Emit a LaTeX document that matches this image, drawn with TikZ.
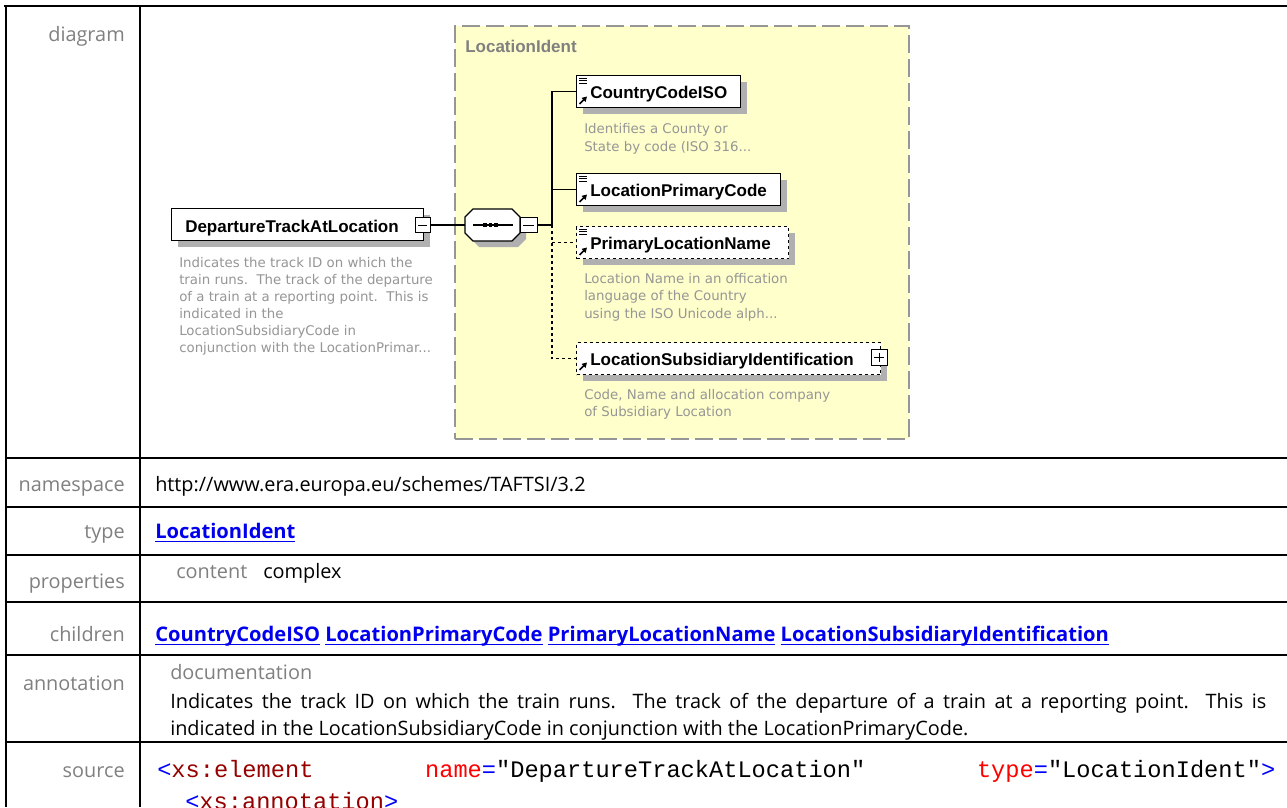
\documentclass[tikz,border=0pt]{standalone}
\usepackage{fontspec}
\setmainfont{Open Sans}
\newfontfamily\tblf{Open Sans}
\newfontfamily\dgf{DejaVu Sans}
\newfontfamily\lblf{Liberation Sans}
\newfontfamily\monof{Liberation Mono}
\usetikzlibrary{shadows,arrows.meta}

\newsavebox\ulbox
\newcommand\lnkul[1]{\sbox\ulbox{#1}\rlap{\vrule height -2pt depth 3pt width \wd\ulbox}\usebox\ulbox}

\definecolor{lblgray}{RGB}{128,128,128}
\definecolor{descgray}{RGB}{150,150,150}
\definecolor{grpyellow}{RGB}{255,255,204}
\definecolor{grpborder}{RGB}{150,150,150}
\definecolor{shd}{RGB}{176,176,176}
\definecolor{linkblue}{RGB}{0,0,238}
\definecolor{srcblue}{RGB}{0,0,255}
\definecolor{srcmaroon}{RGB}{150,0,0}
\definecolor{srcred}{RGB}{255,0,0}

\begin{document}
\begin{tikzpicture}[x=0.75pt,y=-0.75pt,
 rowlbl/.style={font=\tblf\fontsize{14.9}{18}\selectfont,text=lblgray,inner sep=0,anchor=base east},
 val/.style={font=\tblf\fontsize{14.9}{18}\selectfont,inner sep=0,anchor=base west},
 link/.style={font=\tblf\bfseries\fontsize{15.1}{18}\selectfont,text=linkblue,inner sep=0,anchor=base west},
 src/.style={font=\monof\fontsize{17.75}{22}\selectfont,inner sep=0,anchor=base west},
 rule/.style={line width=1.5pt},
 elbox/.style={draw,fill=white,line width=0.9pt,inner sep=0,minimum height=24pt,anchor=north west,
   general shadow={fill=shd,shadow xshift=4.5pt,shadow yshift=-4.5pt,shadow scale=1}},
 optbox/.style={elbox,dash pattern=on 2.25pt off 2.25pt},
 elname/.style={font=\lblf\bfseries\fontsize{12.75}{15}\selectfont,inner sep=0,anchor=base west},
 desc/.style={font=\dgf\fontsize{10}{12}\selectfont,text=descgray,inner sep=0,anchor=base west},
 grp/.style={draw=grpborder,fill=grpyellow,line width=1.5pt,dash pattern=on 13.5pt off 4.5pt,inner sep=0,anchor=north west},
 conn/.style={line width=0.8pt},
 optline/.style={dash pattern=on 2.25pt off 2.25pt},
 minusbox/.style={draw,fill=white,line width=0.75pt,minimum size=11.25pt,inner sep=0,
   path picture={\draw[line width=0.75pt] ([xshift=2.5pt]path picture bounding box.west) -- ([xshift=-2.5pt]path picture bounding box.east);}},
 plusbox/.style={minusbox,
   path picture={\draw[line width=0.75pt] ([xshift=2.5pt]path picture bounding box.west) -- ([xshift=-2.5pt]path picture bounding box.east);
                 \draw[line width=0.75pt] ([yshift=-2.5pt]path picture bounding box.north) -- ([yshift=2.5pt]path picture bounding box.south);}},
]
\useasboundingbox (0,0) rectangle (1287,807);
\clip (0,0) rectangle (1287,807);
\fill[white] (0,0) rectangle (1287,807);

% ---------------- table rules
\draw[rule] (4,6) -- (1287,6);
\draw[rule] (6,6) -- (6,807);
\draw[rule] (139.5,6) -- (139.5,807);
\foreach \yy in {458,506.5,555,602,655,742} \draw[rule] (5,\yy) -- (1287,\yy);

% ---------------- row labels
\node[rowlbl] (ldiag) at (125,41) {diagram};
\node[rowlbl] (lns) at (125,491) {namespace};
\node[rowlbl] (ltype) at (125,538) {type};
\node[rowlbl] (lprop) at (125,588) {properties};
\node[rowlbl] (lchild) at (125,641) {children};
\node[rowlbl] (lann) at (125,690) {annotation};
\node[rowlbl] (lsrc) at (125,777) {source};

% ---------------- values
\node[val] (vns) at (155,491) {http://www.era.europa.eu/schemes/TAFTSI/3.2};
\node[link] (vtype) at (155,538) {\lnkul{LocationIdent}};
\node[val,text=lblgray] (vcont) at (176,578) {content};
\node[val] (vcomplex) at (263,578) {complex};
\node[link] (vchild) at (155,641) {\lnkul{CountryCodeISO} \lnkul{LocationPrimaryCode} \lnkul{PrimaryLocationName} \lnkul{LocationSubsidiaryIdentification}};
\node[val,text=lblgray] (vdoc) at (170,679) {documentation};
\node[val] (vann1) at (170,708) {\hbox to 822pt{Indicates the track ID on which the train runs.\ \ The track of the departure of a train at a reporting point.\ \ This is}};
\node[val] (vann2) at (170,735) {indicated in the LocationSubsidiaryCode in conjunction with the LocationPrimaryCode.};
\node[src] (vsrc1) at (157,777) {\hbox to 838.5pt{{\color{srcblue}<}{\color{srcmaroon}xs:element}\hfill{\color{srcred}name}{\color{srcblue}=}"DepartureTrackAtLocation"\hfill{\color{srcred}type}{\color{srcblue}=}"LocationIdent"{\color{srcblue}>}}};
\node[src] (vsrc2) at (185,809) {{\color{srcblue}<}{\color{srcmaroon}xs:annotation}{\color{srcblue}>}};

% ---------------- diagram: group
\node[grp,minimum width=340.5pt,minimum height=309.75pt] (grp) at (454,25) {};
\node[elname,text=lblgray] (grplbl) at (465,52.5) {LocationIdent};

% root element
\node[elbox,minimum width=189pt] (dep) at (171,208) {};
\node[elname] (deptxt) at (185,232) {DepartureTrackAtLocation};
\node[minusbox] (depm) at (422.5,225) {};

% sequence compositor
\fill[shd] (471,223) -- (479,215) -- (518,215) -- (526,223) -- (526,239) -- (518,247) -- (479,247) -- (471,239) -- cycle;
\node[inner sep=0,minimum width=41.25pt,minimum height=24pt] (seq) at (492.5,225) {};
\draw[line width=0.9pt,fill=white] (465,217) -- (473,209) -- (512,209) -- (520,217) -- (520,233) -- (512,241) -- (473,241) -- (465,233) -- cycle;
\draw[line width=0.8pt] (473,225) -- (513,225);
\foreach \dx in {483,488.5,494} \fill (\dx,223) rectangle ++(3.5,4);
\node[minusbox,minimum width=12.75pt] (seqm) at (528.5,225) {};
\coordinate (tr) at (552,225);

% child elements
\node[elbox,minimum width=123pt] (cc) at (576,75) {};
\node[elname] (cctxt) at (590,98) {CountryCodeISO};
\node[elbox,minimum width=153pt] (lpc) at (576,173) {};
\node[elname] (lpctxt) at (590,196) {LocationPrimaryCode};
\node[optbox,minimum width=159pt] (pln) at (576,226) {};
\node[elname] (plntxt) at (590,249) {PrimaryLocationName};
\node[optbox,minimum width=228pt] (sub) at (576,342) {};
\node[elname] (subtxt) at (590,365) {LocationSubsidiaryIdentification};
\node[plusbox,minimum size=12pt] (subp) at (879,357.5) {};

% icons
\foreach \yt in {78,176,229} {
  \foreach \k in {0,2.5,5} \draw[line width=0.7pt] (579,\yt+\k) -- (587,\yt+\k);
}
\foreach \yb in {104,202,255,370} {
  \draw[line width=1.2pt,-{Triangle[length=3.6pt,width=4pt]}] (579.5,\yb) -- (587,\yb-7.5);
}

% connectors
\draw[conn] (depm.east) -- (seq.west);
\draw[conn] (seqm.east) -- (tr);
\draw[conn] (cc.west) -| (tr);
\draw[conn] (lpc.west) -- (lpc.west -| tr);
\draw[conn,optline] (tr) |- (sub.west);
\draw[conn,optline] (pln.west -| tr) -- (pln.west);

% descriptions
\node[desc] (dd1) at (179,267) {Indicates the track ID on which the};
\node[desc] (dd2) at (179,284) {train runs.\ \ The track of the departure};
\node[desc] (dd3) at (179,301) {of a train at a reporting point.\ \ This is};
\node[desc] (dd4) at (179,318) {indicated in the};
\node[desc] (dd5) at (179,335) {LocationSubsidiaryCode in};
\node[desc] (dd6) at (179,352) {conjunction with the LocationPrimar...};
\node[desc] (ccd1) at (584,133) {Identifies a County or};
\node[desc] (ccd2) at (584,151) {State by code (ISO 316...};
\node[desc] (pld1) at (584,283) {Location Name in an offication};
\node[desc] (pld2) at (584,300.7) {language of the Country};
\node[desc] (pld3) at (584,318.3) {using the ISO Unicode alph...};
\node[desc] (sbd1) at (584,399) {Code, Name and allocation company};
\node[desc] (sbd2) at (584,416) {of Subsidiary Location};
\end{tikzpicture}
\end{document}
